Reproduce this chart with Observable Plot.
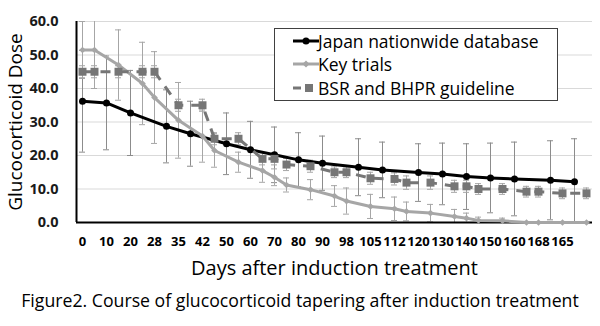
<!DOCTYPE html>
<html>
<head>
<meta charset="utf-8">
<script src="https://cdn.jsdelivr.net/npm/d3@7"></script>
<script src="https://cdn.jsdelivr.net/npm/@observablehq/plot@0.6"></script>
<style>
  html, body { margin: 0; padding: 0; background: #fff; }
  #wrap { position: relative; width: 600px; height: 326px; overflow: hidden; background: #fff; }
  #chart { position: absolute; left: 0; top: 0; }
  #legend { position: absolute; left: 274px; top: 28px; width: 284px; height: 73px; box-sizing: border-box;
            border: 1.5px solid #404040; background: #fff; font-family: "Open Sans", sans-serif; font-size: 17.5px; color: #000; }
  .row { position: absolute; left: 0; height: 24px; line-height: 24px; white-space: nowrap; }
  .row svg { position: absolute; left: 18px; top: 6px; }
  .row span { position: absolute; left: 43px; top: 0; }
  #caption { position: absolute; left: 0; top: 288px; width: 600px; text-align: center;
             font-family: "Open Sans", sans-serif; font-size: 17.7px; line-height: 24px; color: #000; white-space: nowrap; }
</style>
</head>
<body>
<div id="wrap">
  <div id="chart"></div>
  <div id="legend"></div>
  <div id="caption"></div>
</div>
<script>
// ---- data (x = position slot on the category axis) ----
const seriesNames = ["Japan nationwide database", "Key trials", "BSR and BHPR guideline"];

const japanSlots = [0, 2, 4, 7, 9, 12, 14, 16, 18, 20, 23, 25, 28, 30, 32, 34, 36, 39, 41];
const japanDose  = [36.2, 35.7, 32.7, 28.7, 26.5, 23.5, 21.7, 20.2, 18.7, 17.7, 16.5, 15.7, 14.9, 14.5, 13.7, 13.3, 13.0, 12.6, 12.2];
const japanSD    = [15.2, 14.0, 12.7, 10.9, 9.7, 9.2, 8.5, 8.3, 8.1, 8.1, 8.5, 8.3, 8.6, 9.2, 9.8, 10.4, 11.0, 11.8, 12.8];

const trialSlots = [0, 1, 3, 5, 6, 8, 10, 11, 13, 15, 16, 17, 19, 21, 22, 24, 26, 27, 29, 31, 32, 33, 35, 37, 38, 40, 42];
const keyTrialsDose = [51.5, 51.5, 47.0, 41.5, 37.3, 30.5, 25.8, 21.5, 18.0, 15.5, 13.5, 11.2, 9.8, 7.9, 6.4, 4.8, 4.1, 3.3, 2.8, 1.8, 1.3, 0.6, 0.5, 0, 0, 0, 0];
const keyTrialsSD   = [8.5, 11.5, 10.5, 12.3, 13.7, 11.3, 7.8, 5.0, 3.0, 3.5, 2.5, 2.1, 3.0, 3.1, 3.9, 3.6, 3.5, 2.8, 2.6, 2.1, 1.5, 1.0, 0.8, 0, 0, 0, 0];
const bsrDose = [45, 45, 45, 45, 45, 35, 35, 25, 25, 19, 19, 17.3, 16.8, 15, 15, 13.2, 13, 11.9, 11.9, 10.8, 10.8, 10, 10, 9.2, 9.2, 8.7, 8.7];
const bsrSD   = [1.8, 1.8, 1.8, 1.8, 1.8, 1.8, 1.8, 1.8, 1.8, 1.8, 1.8, 1.8, 1.8, 1.6, 1.6, 1.8, 1.8, 2.0, 2.0, 1.8, 1.8, 1.6, 1.6, 1.6, 1.6, 1.6, 1.6];

const dayLabels = ["0","10","20","28","35","42","50","60","70","80","90","98","105","112","120","130","140","150","160","168","165"];
const yTicks = [0, 10, 20, 30, 40, 50, 60];

const colors = { japan: "#000000", trials: "#a6a6a6", bsr: "#767676" };
const errColors = { japan: "#8c8c8c", trials: "#a6a6a6", bsr: "#a6a6a6" };

// ---- tables built from the arrays ----
const jp = japanSlots.map((x, i) => ({x, v: japanDose[i], sd: japanSD[i]}));
const kt = trialSlots.map((x, i) => ({x, v: keyTrialsDose[i], sd: keyTrialsSD[i]}));
const bs = trialSlots.map((x, i) => ({x, v: bsrDose[i], sd: bsrSD[i]}));

const labelSlots = dayLabels.map((_, i) => i * 2); // a label on every second category slot
const labelBySlot = new Map(labelSlots.map((s, i) => [s, dayLabels[i]]));

function errorBars(rows, stroke) {
  const r = rows.filter(d => d.sd > 0);
  const cap = 0.25;
  return [
    Plot.ruleX(r, {x: "x", y1: d => d.v - d.sd, y2: d => d.v + d.sd, stroke, strokeWidth: 1, clip: true}),
    Plot.ruleY(r, {y: d => d.v + d.sd, x1: d => d.x - cap, x2: d => d.x + cap, stroke, strokeWidth: 1, clip: true}),
    Plot.ruleY(r, {y: d => d.v - d.sd, x1: d => d.x - cap, x2: d => d.x + cap, stroke, strokeWidth: 1, clip: true})
  ];
}

const tickFont = "'Open Sans', sans-serif";

const chart = Plot.plot({
  width: 600,
  height: 284,
  marginLeft: 76,
  marginRight: 8,
  marginTop: 21,
  marginBottom: 62,
  x: {domain: [-0.5, 42.5]},
  y: {domain: [0, 60]},
  style: {background: "transparent", fontFamily: tickFont, color: "#000"},
  marks: [
    Plot.gridY(yTicks.filter(t => t > 0), {stroke: "#d9d9d9", strokeOpacity: 1, strokeWidth: 1}),
    Plot.axisY(yTicks, {tickSize: 0, tickPadding: 18, tickFormat: d3.format(".1f"), fontWeight: "bold", fontSize: 14.5, fill: "#1a1a1a", label: null}),
    Plot.axisX(labelSlots, {tickSize: 0, tickPadding: 14, tickFormat: d => labelBySlot.get(d), fontWeight: "bold", fontSize: 13, fill: "#000", label: null}),
    Plot.text(["Glucocorticoid Dose"], {frameAnchor: "left", rotate: -90, dx: -61, fontSize: 19, fontFamily: tickFont, fill: "#000", textAnchor: "middle", lineAnchor: "middle"}),
    Plot.text(["Days after induction treatment"], {frameAnchor: "bottom", dy: 46, fontSize: 20, fontFamily: tickFont, fill: "#000", textAnchor: "middle", lineAnchor: "middle"}),
    ...errorBars(jp, errColors.japan),
    ...errorBars(kt, errColors.trials),
    ...errorBars(bs, errColors.bsr),
    Plot.ruleX([-0.5], {stroke: "#000", strokeWidth: 2}),
    Plot.ruleY([0], {stroke: "#000", strokeWidth: 2}),
    Plot.line(jp, {x: "x", y: "v", stroke: colors.japan, strokeWidth: 3}),
    Plot.dot(jp, {x: "x", y: "v", r: 3.5, fill: colors.japan, stroke: "none"}),
    Plot.line(kt, {x: "x", y: "v", stroke: colors.trials, strokeWidth: 3}),
    Plot.dot(kt, {x: "x", y: "v", r: 3, symbol: "diamond2", fill: colors.trials, stroke: "none"}),
    Plot.line(bs, {x: "x", y: "v", stroke: colors.bsr, strokeWidth: 3, strokeDasharray: "10,8", strokeLinecap: "butt"}),
    Plot.dot(bs, {x: "x", y: "v", r: 4.5, symbol: "square", fill: colors.bsr, stroke: "none"})
  ]
});
document.getElementById("chart").appendChild(chart);

// ---- legend ----
const legend = document.getElementById("legend");
const symbols = [
  `<svg width="26" height="12"><line x1="0" y1="6" x2="26" y2="6" stroke="${colors.japan}" stroke-width="3"/><circle cx="13" cy="6" r="3.5" fill="${colors.japan}"/></svg>`,
  `<svg width="26" height="12"><line x1="0" y1="6" x2="26" y2="6" stroke="${colors.trials}" stroke-width="3"/><rect x="10.5" y="3.5" width="5" height="5" transform="rotate(45 13 6)" fill="${colors.trials}"/></svg>`,
  `<svg width="26" height="12"><line x1="0" y1="6" x2="8" y2="6" stroke="${colors.bsr}" stroke-width="3"/><rect x="12" y="2" width="8" height="8" fill="${colors.bsr}"/></svg>`
];
const rowTops = [0, 23, 47];
seriesNames.forEach((name, i) => {
  const row = document.createElement("div");
  row.className = "row";
  row.style.top = rowTops[i] + "px";
  row.innerHTML = symbols[i] + `<span>${name}</span>`;
  legend.appendChild(row);
});

document.getElementById("caption").textContent = "Figure2. Course of glucocorticoid tapering after induction treatment";
</script>
</body>
</html>
